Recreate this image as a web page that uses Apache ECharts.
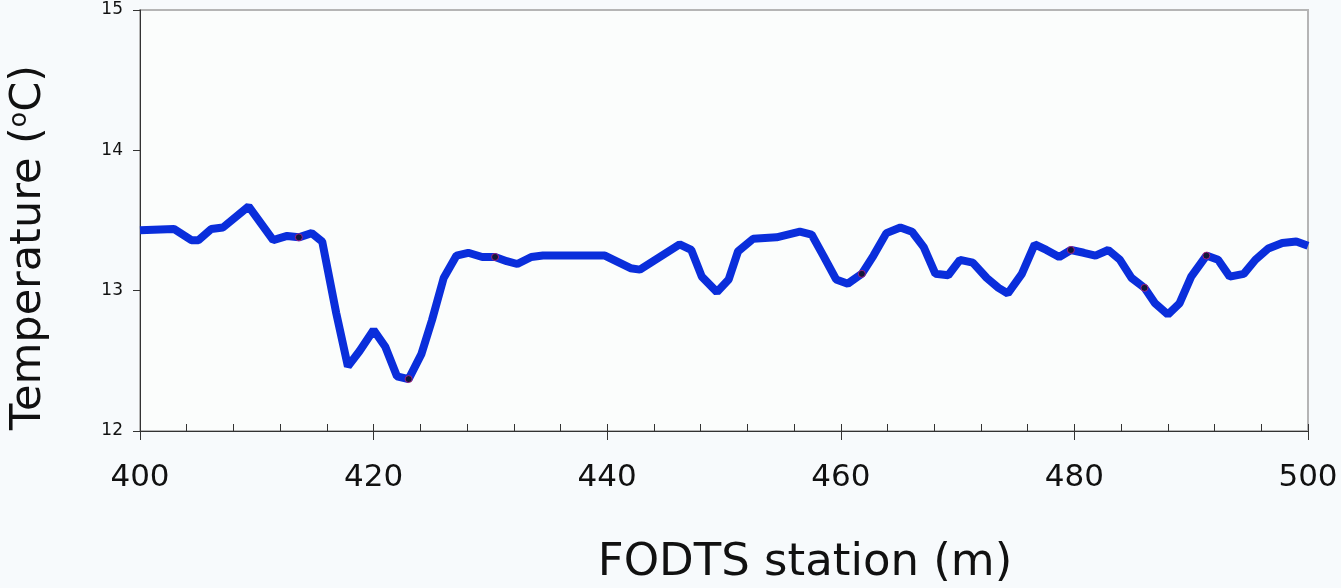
<!DOCTYPE html>
<html>
<head>
<meta charset="utf-8">
<script src="https://cdn.jsdelivr.net/npm/echarts@6/dist/echarts.min.js"></script>
<style>
html,body{margin:0;padding:0;background:#f7fafc;}
#chart{width:1341px;height:588px;}
</style>
</head>
<body>
<div id="chart"></div>
<script>
const stations = [400.0,402.9,404.4,405.0,406.1,407.1,409.3,411.4,412.6,413.6,414.7,415.6,416.8,417.8,418.8,420.0,421.0,422.0,423.0,424.1,425.0,426.0,427.1,428.1,429.3,430.4,431.4,432.3,433.5,434.5,439.8,442.0,442.8,446.2,447.2,448.1,449.4,450.4,451.2,452.5,454.5,456.5,457.5,458.5,459.6,460.6,461.8,462.8,463.9,465.1,466.1,467.1,468.1,469.2,470.2,471.3,472.5,473.5,474.3,475.5,476.6,477.6,478.7,479.7,480.8,481.8,482.9,483.9,484.9,486.0,486.9,488.0,489.0,490.0,491.3,492.3,493.3,494.5,495.5,496.6,497.8,499.0,500.0];
const temps = [13.43,13.44,13.36,13.36,13.44,13.45,13.60,13.36,13.39,13.38,13.41,13.35,12.84,12.46,12.57,12.72,12.60,12.39,12.37,12.55,12.79,13.09,13.25,13.27,13.24,13.24,13.21,13.19,13.24,13.25,13.25,13.16,13.15,13.33,13.29,13.10,12.99,13.08,13.28,13.37,13.38,13.42,13.40,13.25,13.08,13.05,13.12,13.25,13.41,13.45,13.42,13.31,13.12,13.11,13.22,13.20,13.09,13.02,12.98,13.12,13.33,13.29,13.24,13.29,13.27,13.25,13.29,13.22,13.09,13.02,12.91,12.83,12.91,13.10,13.25,13.22,13.10,13.12,13.22,13.30,13.34,13.35,13.32];
const markerStations = [413.6,423.0,430.4,461.8,479.7,486.0,491.3];
const markerTemps = [13.38,12.37,13.24,13.12,13.29,13.02,13.25];
const xTickLabels = [400,420,440,460,480,500];
const yTickLabels = [12,13,14,15];

const lineData = stations.map((s,i)=>[s,temps[i]]);
const markerData = markerStations.map((s,i)=>[s,markerTemps[i]]);

const chart = echarts.init(document.getElementById('chart'));
const axisColor = '#333';
const nameFont = 'DejaVu Sans';
chart.setOption({
  backgroundColor:'#f7fafc',
  animation:false,
  grid:{left:140,right:33,top:10,bottom:157,containLabel:false,outerBoundsMode:'none',
    show:true,borderColor:'#b5b5b5',borderWidth:2,backgroundColor:'#fbfdfc'},
  xAxis:[{
    type:'value',min:400,max:500,interval:4,position:'bottom',
    axisLine:{show:true,onZero:false,lineStyle:{color:axisColor,width:1}},
    axisTick:{show:true,inside:true,length:7,lineStyle:{color:axisColor}},
    axisLabel:{show:false},
    splitLine:{show:false}
  },{
    type:'value',min:400,max:500,interval:20,position:'bottom',
    axisLine:{show:true,onZero:false,lineStyle:{color:axisColor,width:1}},
    axisTick:{show:true,inside:false,length:9,lineStyle:{color:axisColor,width:1}},
    axisLabel:{show:true,margin:31,fontFamily:'DejaVu Sans',fontSize:31,color:'#111',
      formatter:v=>xTickLabels.includes(v)?String(v):''},
    splitLine:{show:false},
    name:'FODTS station (m)',nameLocation:'middle',nameGap:110,
    nameTextStyle:{fontFamily:nameFont,fontSize:45,color:'#111',padding:[0,0,0,162]}
  }],
  yAxis:{
    type:'value',min:12,max:15,interval:1,
    axisLine:{show:true,onZero:false,lineStyle:{color:axisColor,width:1}},
    axisTick:{show:true,inside:false,length:7,lineStyle:{color:axisColor}},
    axisLabel:{margin:17,fontFamily:'DejaVu Sans',fontSize:17,color:'#111',
      formatter:v=>yTickLabels.includes(v)?String(v):''},
    splitLine:{show:false},
    name:'Temperature ({sup|o}C)',nameLocation:'middle',nameGap:90,
    nameTextStyle:{fontFamily:nameFont,fontSize:43,color:'#111',padding:[0,54,0,0],
      rich:{sup:{fontFamily:nameFont,fontSize:25,color:'#111',verticalAlign:'top',padding:[0,0,16,0]}}}
  },
  series:[{
    type:'line',xAxisIndex:0,data:lineData,showSymbol:false,symbol:'none',
    lineStyle:{color:'#0a2edb',width:8,join:'bevel',cap:'butt'},
    clip:false
  },{
    type:'scatter',xAxisIndex:0,data:markerData,symbol:'circle',symbolSize:7,
    itemStyle:{color:'#111',borderColor:'#c0208a',borderWidth:1},z:5
  }]
});
</script>
</body>
</html>
